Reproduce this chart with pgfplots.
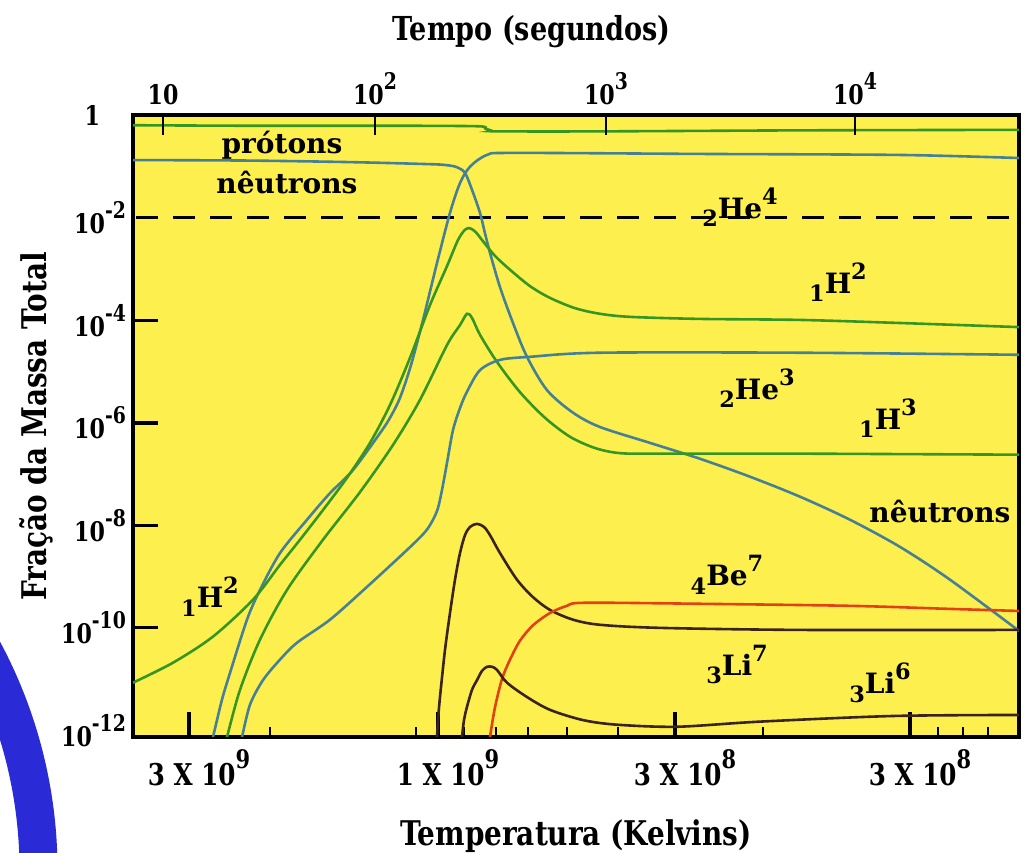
\documentclass[border=0pt]{standalone}
\usepackage{fontspec}
\setmainfont{DejaVu Serif}
\newfontfamily\cond{DejaVu Serif}[FakeStretch=0.82]
\usepackage{pgfplots}
\pgfplotsset{compat=1.18}
\usepackage{graphicx}
\definecolor{bgyellow}{RGB}{253,240,78}
\definecolor{cgreen}{RGB}{55,150,35}
\definecolor{cblue}{RGB}{70,128,150}
\definecolor{cdark}{RGB}{60,35,25}
\definecolor{cred}{RGB}{225,65,20}
\definecolor{arcblue}{RGB}{42,42,215}
\newcommand{\up}[1]{\raisebox{0.55em}{\scalebox{0.85}{#1}}}
\newcommand{\iso}[3]{\raisebox{-0.3em}{\scalebox{0.8}{#1}}#2\raisebox{0.5em}{\scalebox{0.8}{#3}}}
\newcommand{\lbl}{\bfseries\fontsize{14}{16}\selectfont}
\begin{document}
\begin{tikzpicture}
\useasboundingbox (0,0) rectangle (512.5pt,426.5pt);
\draw[arcblue, line width=19pt] (-212.25pt,-8.5pt) ++(40:231.5pt) arc (40:-10:231.5pt);
\begin{axis}[
  at={(66.5pt,58pt)}, anchor=south west,
  scale only axis, width=443pt, height=310.75pt,
  xmin=133, xmax=1019, ymin=-12.13, ymax=0,
  axis background/.style={fill=bgyellow},
  axis line style={line width=2pt, black},
  tick align=inside,
  xtick pos=left, ytick pos=left,
  xtick={189,438,675,910},
  xticklabels={{3 X 10\up{9}},{1 X 10\up{9}},{3 X 10\up{8}},{3 X 10\up{8}}},
  minor xtick={270,416,464,496,528,567,618,763,938,963,988},
  major tick length=12.5pt, minor tick length=5pt,
  every major tick/.style={line width=1.6pt, black},
  every minor tick/.style={line width=1pt, black},
  ytick={-4,-6,-8,-10},
  yticklabels={{10\up{-4}},{10\up{-6}},{10\up{-8}},{10\up{-10}}},
  extra y ticks={0,-2,-12},
  extra y tick labels={{1\rule{13pt}{0pt}},{10\up{-2}},{10\up{-12}}},
  extra y tick style={major tick length=0pt},
  tick label style={font=\cond\bfseries\fontsize{13.5}{15}\selectfont},
  xticklabel style={xshift=5pt, yshift=-3pt, font=\cond\bfseries\fontsize{15}{17}\selectfont},
  xlabel={Temperatura (Kelvins)},
  xlabel style={at={(axis description cs:0.5,-0.122)}, anchor=north, font=\cond\bfseries\fontsize{17}{19}\selectfont},
  ylabel={Fração da Massa Total},
  ylabel style={at={(axis description cs:-0.109,0.5)}, anchor=center, font=\cond\bfseries\fontsize{17}{19}\selectfont},
  title={Tempo (segundos)},
  title style={at={(axis description cs:0.45,1.115)}, anchor=center, font=\cond\bfseries\fontsize{16.5}{18}\selectfont},
  every axis plot/.append style={line width=1.3pt, smooth, tension=0.5},
]
% dashed 1% line
\addplot[black, line width=1.5pt, dash pattern=on 11pt off 7.5pt, sharp plot] coordinates {(136,-2) (1010,-2)};
% protons
\addplot[cgreen] coordinates {(133,-0.19) (250,-0.20) (400,-0.20) (478,-0.21) (485,-0.25) (492,-0.30) (500,-0.31) (600,-0.31) (800,-0.29) (1019,-0.28)};
% neutrons
\addplot[cblue] coordinates {(133,-0.87) (250,-0.88) (350,-0.91) (430,-0.95) (447,-0.97) (457,-1.01) (465,-1.12) (472,-1.45) (480,-1.90) (485,-2.30) (490,-2.68) (500,-3.35) (513,-4.05) (527,-4.71) (547,-5.36) (573,-5.80) (600,-6.08) (650,-6.39) (700,-6.70) (750,-7.05) (800,-7.44) (850,-7.89) (900,-8.42) (950,-9.06) (1019,-10.06)};
% He4
\addplot[cblue] coordinates {(211,-12.28) (213,-12.13) (222,-11.40) (230,-10.88) (247,-9.84) (260,-9.26) (280,-8.54) (307,-7.89) (330,-7.37) (353,-6.92) (380,-6.20) (390,-5.90) (400,-5.51) (411,-4.87) (423,-3.99) (437,-2.88) (450,-1.90) (460,-1.32) (470,-1.00) (487,-0.77) (513,-0.73) (700,-0.75) (900,-0.77) (1019,-0.83)};
% H2
\addplot[cgreen] coordinates {(133,-11.07) (173,-10.68) (213,-10.17) (253,-9.45) (280,-8.77) (300,-8.28) (323,-7.70) (347,-7.07) (370,-6.39) (390,-5.65) (410,-4.73) (430,-3.70) (447,-2.94) (458,-2.43) (465,-2.23) (470,-2.20) (476,-2.28) (482,-2.43) (495,-2.74) (510,-3.01) (530,-3.33) (550,-3.56) (575,-3.76) (600,-3.87) (630,-3.93) (700,-3.97) (800,-3.99) (900,-4.05) (1019,-4.13)};
% H3
\addplot[cgreen] coordinates {(225,-12.28) (227,-12.13) (240,-11.21) (260,-10.23) (287,-9.26) (323,-8.28) (360,-7.35) (393,-6.43) (420,-5.55) (447,-4.48) (460,-4.09) (467,-3.87) (472,-3.95) (480,-4.28) (497,-4.81) (520,-5.40) (545,-5.90) (570,-6.27) (595,-6.49) (620,-6.59) (660,-6.60) (800,-6.60) (1019,-6.62)};
% He3
\addplot[cblue] coordinates {(240,-12.28) (242,-12.13) (250,-11.50) (263,-11.02) (280,-10.62) (297,-10.29) (330,-9.84) (367,-9.20) (407,-8.48) (425,-8.13) (433,-7.89) (438,-7.66) (442,-7.31) (447,-6.78) (453,-6.14) (460,-5.71) (467,-5.39) (480,-4.97) (500,-4.77) (530,-4.71) (600,-4.63) (800,-4.63) (1019,-4.67)};
% Li7
\addplot[cdark] coordinates {(436,-12.28) (437,-12.13) (438,-11.80) (440,-11.35) (445,-10.43) (450,-9.71) (455,-9.06) (460,-8.54) (465,-8.19) (470,-8.03) (477,-7.97) (484,-8.03) (490,-8.19) (500,-8.54) (517,-9.06) (533,-9.40) (550,-9.65) (573,-9.84) (600,-9.94) (660,-10.00) (800,-10.04) (1019,-10.04)};
% Be7
\addplot[cred] coordinates {(489,-12.28) (490,-12.13) (495,-11.55) (502,-11.00) (510,-10.62) (520,-10.25) (533,-9.95) (550,-9.71) (567,-9.57) (585,-9.51) (700,-9.53) (850,-9.57) (950,-9.63) (1019,-9.67)};
% Li6
\addplot[cdark] coordinates {(461,-12.28) (462,-12.13) (464,-11.80) (467,-11.54) (472,-11.21) (477,-11.02) (482,-10.84) (487,-10.76) (492,-10.76) (497,-10.82) (507,-11.07) (527,-11.35) (550,-11.60) (583,-11.80) (617,-11.89) (677,-11.93) (760,-11.83) (893,-11.72) (1019,-11.70)};
% labels
\node[font=\lbl] at (282,-0.576) {prótons};
\node[font=\lbl] at (287,-1.317) {nêutrons};
\node[font=\lbl] at (740,-1.785) {\iso{2}{He}{4}};
\node[font=\lbl] at (838,-3.249) {\iso{1}{H}{2}};
\node[font=\lbl] at (757,-5.317) {\iso{2}{He}{3}};
\node[font=\lbl] at (888,-5.902) {\iso{1}{H}{3}};
\node[font=\lbl] at (940,-7.737) {nêutrons};
\node[font=\lbl] at (727,-8.966) {\iso{4}{Be}{7}};
\node[font=\lbl] at (737,-10.72) {\iso{3}{Li}{7}};
\node[font=\lbl] at (880,-11.07) {\iso{3}{Li}{6}};
\node[font=\lbl] at (210,-9.39) {\iso{1}{H}{2}};
\end{axis}
\begin{axis}[
  at={(66.5pt,58pt)}, anchor=south west,
  scale only axis, width=443pt, height=310.75pt,
  xmin=133, xmax=1019, ymin=0, ymax=1,
  axis x line*=top, axis y line=none,
  axis line style={line width=2pt, black},
  tick align=inside,
  xtick={163,375,606,855},
  xticklabels={{10},{10\up{2}},{10\up{3}},{10\up{4}}},
  major tick length=10pt,
  every major tick/.style={line width=1pt, black},
  tick label style={font=\cond\bfseries\fontsize{13.5}{15}\selectfont},
  xticklabel style={yshift=2pt},
]
\end{axis}
\end{tikzpicture}
\end{document}
